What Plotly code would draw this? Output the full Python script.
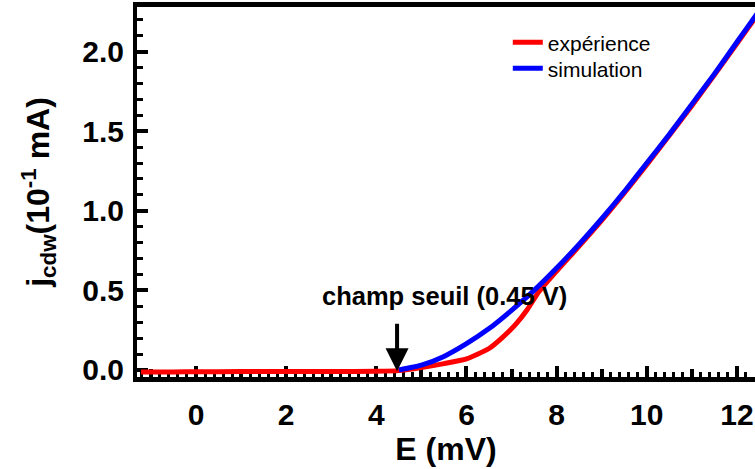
import plotly.graph_objects as go

# Experimental curve (E in mV, j_cdw in 10^-1 mA)
exp_E = [-1.22, -0.5, 0.0, 1.0, 2.0, 3.0, 4.0, 4.5, 5.0, 5.5, 6.0, 6.5, 6.8, 7.1, 7.35, 7.6, 7.9, 8.3, 9.0, 10.0, 11.0, 12.0, 12.6]
exp_j = [-0.012, -0.012, -0.011, -0.01, -0.01, -0.01, -0.008, -0.004, 0.015, 0.04, 0.07, 0.135, 0.205, 0.29, 0.38, 0.49, 0.59, 0.715, 0.94, 1.29, 1.66, 2.05, 2.29]

# Simulation curve
sim_E = [4.5, 5.0, 5.5, 6.0, 6.5, 7.0, 7.5, 8.0, 8.5, 9.0, 9.5, 10.0, 10.5, 11.0, 11.5, 12.0, 12.5, 12.7]
sim_j = [0.0, 0.03, 0.085, 0.165, 0.26, 0.375, 0.50, 0.64, 0.79, 0.95, 1.12, 1.30, 1.48, 1.67, 1.86, 2.06, 2.26, 2.34]

threshold_E = 4.46
odd_ticks = [-1, 1, 3, 5, 7, 9, 11]

FONT = "Liberation Sans, Arial, sans-serif"

fig = go.Figure()
fig.add_trace(go.Scatter(x=exp_E, y=exp_j, mode="lines", name="expérience", legend="legend",
                         line=dict(color="#ff0000", width=5, shape="spline", smoothing=0.5)))
fig.add_trace(go.Scatter(x=sim_E, y=sim_j, mode="lines", name="simulation", legend="legend2",
                         line=dict(color="#0000ff", width=5, shape="spline", smoothing=0.5)))
# dummy trace carrying the medium odd-integer ticks axis
fig.add_trace(go.Scatter(x=[None], y=[None], xaxis="x2", showlegend=False, hoverinfo="skip"))

xr = [-1.309, 12.40]
legend_common = dict(xanchor="left", yanchor="top", bgcolor="rgba(0,0,0,0)",
                     font=dict(family=FONT, size=21, color="black"))
fig.update_layout(
    width=755, height=469, autosize=False,
    margin=dict(l=137, r=0, t=7, b=92),
    paper_bgcolor="white", plot_bgcolor="white",
    font=dict(family=FONT, color="black"),
    showlegend=True,
    legend=dict(x=0.6, y=0.959, **legend_common),
    legend2=dict(x=0.6, y=0.8886, **legend_common),
    xaxis=dict(range=xr, showline=True, linewidth=5, linecolor="black", mirror=True,
               ticks="inside", ticklen=11, tickwidth=4, tickcolor="black",
               tick0=0, dtick=2, showgrid=False, zeroline=False, layer="below traces",
               ticklabelstandoff=7,
               minor=dict(ticks="inside", dtick=0.2, tick0=0, ticklen=5, tickwidth=3, tickcolor="black", showgrid=False),
               tickfont=dict(family=FONT, size=30, color="black", weight="bold"),
               title=dict(text="<b>E (mV)</b>", font=dict(family=FONT, size=32, color="black"), standoff=0)),
    xaxis2=dict(range=xr, overlaying="x", anchor="y", side="bottom", showline=False,
                ticks="inside", ticklen=8, tickwidth=4, tickcolor="black",
                tickmode="array", tickvals=odd_ticks, showticklabels=False,
                showgrid=False, zeroline=False, layer="below traces"),
    yaxis=dict(range=[-0.044, 2.280], showline=True, linewidth=4, linecolor="black",
               ticks="inside", ticklen=11, tickwidth=4, tickcolor="black",
               tick0=0, dtick=0.5, tickformat=".1f", showgrid=False, zeroline=False, layer="below traces",
               ticklabelstandoff=3,
               minor=dict(ticks="inside", dtick=0.1, tick0=0, ticklen=6, tickwidth=3, tickcolor="black", showgrid=False),
               tickfont=dict(family=FONT, size=30, color="black", weight="bold"),
               title=dict(text="<b>j<sub>cdw</sub>(10<sup>-1</sup> mA)</b>",
                          font=dict(family=FONT, size=32, color="black"), standoff=24)),
)

fig.add_annotation(x=threshold_E, y=-0.008, xref="x", yref="y", text="", showarrow=True,
                   ax=0, ay=-49, arrowhead=2, arrowsize=1.15, arrowwidth=4, arrowcolor="black")
fig.add_annotation(x=5.52, y=0.465, xref="x", yref="y", text="<b>champ seuil (0.45 V)</b>",
                   showarrow=False, font=dict(family=FONT, size=25.5, color="black"))

fig.write_html("out.html", config={"displayModeBar": False},
               post_script="document.body.style.margin='0';")
